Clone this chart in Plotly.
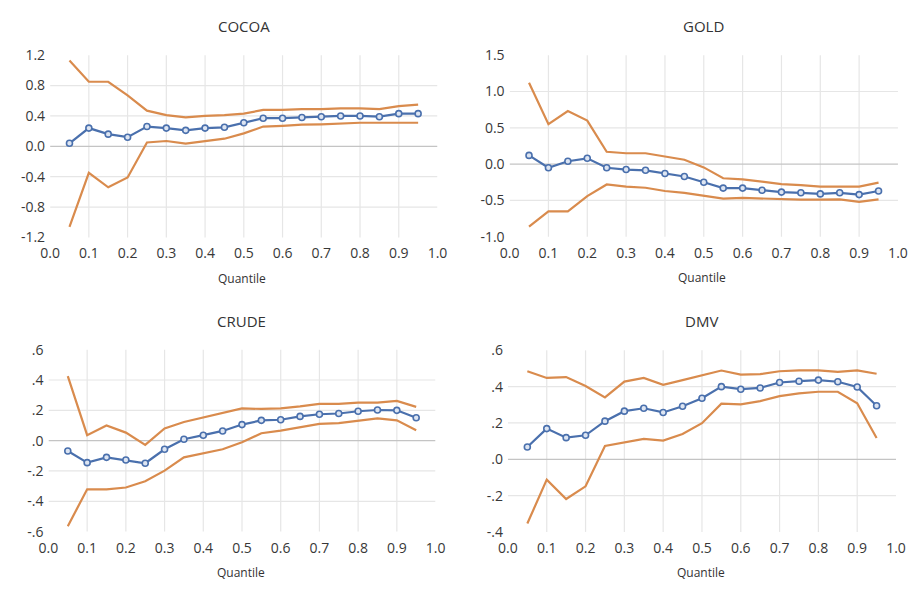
import plotly.graph_objects as go

# Quantile grid shared by all four panels
quantiles = [0.05, 0.10, 0.15, 0.20, 0.25, 0.30, 0.35, 0.40, 0.45, 0.50,
             0.55, 0.60, 0.65, 0.70, 0.75, 0.80, 0.85, 0.90, 0.95]

# COCOA: estimate with lower / upper bands
cocoa_est = [0.04, 0.24, 0.16, 0.12, 0.26, 0.24, 0.21, 0.24, 0.25, 0.31,
             0.37, 0.37, 0.38, 0.39, 0.40, 0.40, 0.39, 0.43, 0.43]
cocoa_hi = [1.13, 0.85, 0.85, 0.67, 0.47, 0.41, 0.38, 0.40, 0.41, 0.43,
            0.48, 0.48, 0.49, 0.49, 0.50, 0.50, 0.49, 0.53, 0.55]
cocoa_lo = [-1.06, -0.35, -0.54, -0.41, 0.05, 0.07, 0.035, 0.07, 0.10, 0.17,
            0.26, 0.27, 0.285, 0.29, 0.30, 0.31, 0.31, 0.31, 0.31]

# GOLD
gold_est = [0.12, -0.05, 0.04, 0.08, -0.05, -0.075, -0.085, -0.13, -0.17, -0.25,
            -0.33, -0.33, -0.36, -0.385, -0.395, -0.41, -0.395, -0.42, -0.37]
gold_hi = [1.12, 0.55, 0.73, 0.60, 0.17, 0.15, 0.15, 0.105, 0.06, -0.045,
           -0.195, -0.21, -0.245, -0.275, -0.29, -0.31, -0.31, -0.31, -0.255]
gold_lo = [-0.86, -0.65, -0.65, -0.44, -0.28, -0.31, -0.325, -0.37, -0.395, -0.44,
           -0.475, -0.465, -0.475, -0.485, -0.49, -0.49, -0.485, -0.52, -0.485]

# CRUDE
crude_est = [-0.068, -0.145, -0.11, -0.128, -0.149, -0.057, 0.009, 0.036, 0.064, 0.106,
             0.134, 0.138, 0.16, 0.174, 0.179, 0.194, 0.202, 0.20, 0.151]
crude_hi = [0.426, 0.036, 0.10, 0.053, -0.028, 0.081, 0.123, 0.153, 0.179, 0.213,
            0.209, 0.213, 0.226, 0.243, 0.243, 0.251, 0.251, 0.262, 0.223]
crude_lo = [-0.564, -0.321, -0.321, -0.309, -0.268, -0.198, -0.11, -0.085, -0.057, -0.011,
            0.049, 0.066, 0.089, 0.11, 0.115, 0.13, 0.147, 0.134, 0.068]

# DMV
dmv_est = [0.068, 0.169, 0.119, 0.132, 0.21, 0.265, 0.281, 0.258, 0.292, 0.336,
           0.40, 0.386, 0.393, 0.423, 0.43, 0.436, 0.427, 0.398, 0.295]
dmv_hi = [0.485, 0.448, 0.453, 0.404, 0.341, 0.428, 0.448, 0.41, 0.436, 0.464,
          0.489, 0.466, 0.469, 0.485, 0.49, 0.49, 0.482, 0.49, 0.471]
dmv_lo = [-0.354, -0.112, -0.219, -0.149, 0.073, 0.092, 0.112, 0.103, 0.139, 0.199,
          0.306, 0.302, 0.32, 0.348, 0.363, 0.372, 0.372, 0.309, 0.117]

# Axis ticks
x_ticks = [0.0, 0.1, 0.2, 0.3, 0.4, 0.5, 0.6, 0.7, 0.8, 0.9, 1.0]
x_tick_labels = ["0.0", "0.1", "0.2", "0.3", "0.4", "0.5", "0.6", "0.7", "0.8", "0.9", "1.0"]
x_grid = [0.1, 0.2, 0.3, 0.4, 0.5, 0.6, 0.7, 0.8, 0.9]

cocoa_yticks = [-1.2, -0.8, -0.4, 0.0, 0.4, 0.8, 1.2]
cocoa_ylabels = ["-1.2", "-0.8", "-0.4", "0.0", "0.4", "0.8", "1.2"]
gold_yticks = [-1.0, -0.5, 0.0, 0.5, 1.0, 1.5]
gold_ylabels = ["-1.0", "-0.5", "0.0", "0.5", "1.0", "1.5"]
crude_yticks = [-0.6, -0.4, -0.2, 0.0, 0.2, 0.4, 0.6]
crude_ylabels = ["-.6", "-.4", "-.2", ".0", ".2", ".4", ".6"]
dmv_yticks = [-0.4, -0.2, 0.0, 0.2, 0.4, 0.6]
dmv_ylabels = ["-.4", "-.2", ".0", ".2", ".4", ".6"]

titles = ["COCOA", "GOLD", "CRUDE", "DMV"]
x_title = "Quantile"

W, H = 920, 589
BLUE = "#4a70ad"
ORANGE = "#d98b4d"
GRID = "#e6e6e6"
ZERO = "#c4c4c4"
TEXT = "#383838"
FONT = "Open Sans"

# Plot-area boxes in pixels: (left, right, top, bottom)
boxes = [
    (41.0, 437.0, 46.7, 235.0),
    (510.7, 907.7, 46.7, 234.3),
    (39.3, 435.0, 351.0, 539.0),
    (509.0, 905.7, 351.7, 539.3),
]

panels = [
    (cocoa_est, cocoa_lo, cocoa_hi, cocoa_yticks, cocoa_ylabels),
    (gold_est, gold_lo, gold_hi, gold_yticks, gold_ylabels),
    (crude_est, crude_lo, crude_hi, crude_yticks, crude_ylabels),
    (dmv_est, dmv_lo, dmv_hi, dmv_yticks, dmv_ylabels),
]

fig = go.Figure()
layout = dict(
    width=W, height=H,
    margin=dict(l=0, r=0, t=0, b=0),
    paper_bgcolor="white", plot_bgcolor="white",
    showlegend=False,
    font=dict(family=FONT, color=TEXT, size=14),
)
shapes = []
annotations = []

for i, ((est, lo, hi, yt, yl), (l, r, t, b), title) in enumerate(zip(panels, boxes, titles)):
    n = "" if i == 0 else str(i + 1)
    xa, ya = "x" + n, "y" + n
    layout["xaxis" + n] = dict(
        domain=[l / W, r / W], range=[0, 1], anchor=ya,
        tickvals=x_ticks, ticktext=x_tick_labels,
        showgrid=False, zeroline=False, showline=False, ticks="",
        tickfont=dict(size=14, color=TEXT), ticklabelstandoff=6,
    )
    layout["yaxis" + n] = dict(
        domain=[1 - b / H, 1 - t / H], range=[yt[0], yt[-1]], anchor=xa,
        tickvals=yt, ticktext=yl,
        showgrid=False, zeroline=False, showline=False, ticks="",
        tickfont=dict(size=14, color=TEXT), ticklabelstandoff=4,
    )
    # horizontal gridlines at interior ticks, darker line at zero
    for v in yt[1:-1]:
        shapes.append(dict(
            type="line", xref=xa, yref=ya, x0=0, x1=1, y0=v, y1=v,
            line=dict(color=ZERO if v == 0 else GRID, width=1.2), layer="below",
        ))
    # vertical gridlines
    for v in x_grid:
        shapes.append(dict(
            type="line", xref=xa, yref=ya + " domain", x0=v, x1=v, y0=0, y1=1,
            line=dict(color=GRID, width=1.2), layer="below",
        ))
    for band in (hi, lo):
        fig.add_trace(go.Scatter(
            x=quantiles, y=band, mode="lines", xaxis=xa, yaxis=ya,
            line=dict(color=ORANGE, width=2.2), hoverinfo="skip",
        ))
    fig.add_trace(go.Scatter(
        x=quantiles, y=est, mode="lines+markers", xaxis=xa, yaxis=ya,
        line=dict(color=BLUE, width=2.2),
        marker=dict(symbol="circle", size=6, color="#dde5f2",
                    line=dict(color=BLUE, width=1.6)),
    ))
    cx = (l + r) / 2
    annotations.append(dict(
        text=title, xref="paper", yref="paper", x=cx / W, y=1 - (t - 30) / H,
        showarrow=False, xanchor="center", yanchor="middle",
        font=dict(size=15, color="#333333", family=FONT),
    ))
    annotations.append(dict(
        text=x_title, xref="paper", yref="paper", x=(cx - 1.5) / W, y=1 - (b + 42) / H,
        showarrow=False, xanchor="center", yanchor="middle",
        font=dict(size=12, color="#333333", family=FONT),
    ))

layout["shapes"] = shapes
layout["annotations"] = annotations
fig.update_layout(**layout)
fig.write_html("out.html")
